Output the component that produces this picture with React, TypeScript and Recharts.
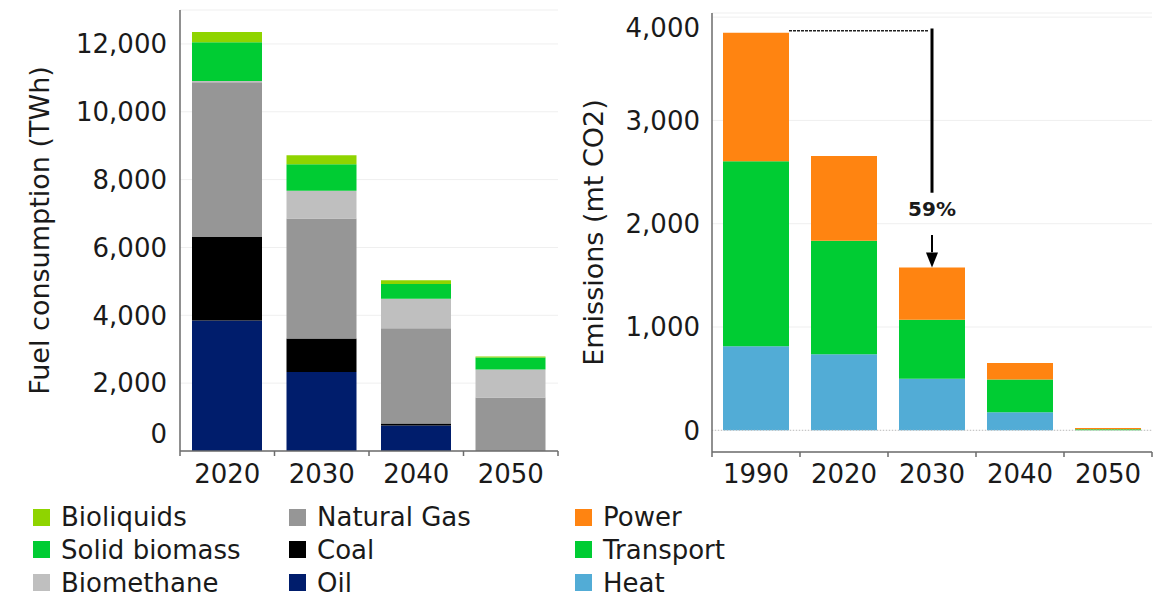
import React from 'react';
import { BarChart, Bar, XAxis, YAxis, CartesianGrid, ReferenceLine, ReferenceDot } from 'recharts';

// fuel consumption (TWh)
const fuelYears = ['2020', '2030', '2040', '2050'];
const oil = [3850, 2330, 750, 0];
const coal = [2460, 985, 60, 0];
const naturalGas = [4560, 3540, 2810, 1575];
const biomethane = [40, 815, 865, 825];
const solidBiomass = [1140, 780, 435, 355];
const bioliquids = [300, 265, 110, 30];
const fuelTicks = [0, 2000, 4000, 6000, 8000, 10000, 12000];

// emissions (mt CO2)
const emissionYears = ['1990', '2020', '2030', '2040', '2050'];
const heat = [813, 736, 500, 174, 0];
const transport = [1791, 1100, 571, 317, 10];
const power = [1246, 819, 504, 161, 12];
const emissionTicks = [0, 1000, 2000, 3000, 4000];

const baseYear = '1990';
const targetYear = '2030';
const reductionLabel = '59%';

const fuelData = fuelYears.map((year, i) => ({
  year,
  oil: oil[i],
  coal: coal[i],
  naturalGas: naturalGas[i],
  biomethane: biomethane[i],
  solidBiomass: solidBiomass[i],
  bioliquids: bioliquids[i],
}));

const emissionData = emissionYears.map((year, i) => ({
  year,
  heat: heat[i],
  transport: transport[i],
  power: power[i],
}));

const baseTotal = heat[0] + transport[0] + power[0];
const targetIdx = emissionYears.indexOf(targetYear);
const targetTotal = heat[targetIdx] + transport[targetIdx] + power[targetIdx];

const FONT = '"DejaVu Sans", Verdana, sans-serif';
const AXIS = '#6b6b6b';
const TEXT = '#1a1a1a';
const EMISSION_BAR = 66;

const COLORS = {
  bioliquids: '#8fd400',
  solidBiomass: '#00cc33',
  biomethane: '#bfbfbf',
  naturalGas: '#969696',
  coal: '#000000',
  oil: '#001d6c',
  power: '#ff8411',
  transport: '#00cc33',
  heat: '#52acd6',
};

const fmt = (v: number) => v.toLocaleString('en-US');

const makeYTick = (shift: (v: number) => number) => (props: any) => {
  const { x, y, payload } = props;
  return (
    <text x={x} y={y + shift(payload.value)} dy="0.355em" textAnchor="end" fontSize={26} fontFamily={FONT} fill={TEXT}>
      {fmt(payload.value)}
    </text>
  );
};

const makeXTick = (fallbackHalf: number, count: number, baseline: number) => (props: any) => {
  const { x, y, payload, index } = props;
  const half = payload && payload.offset > 0 ? payload.offset : fallbackHalf;
  return (
    <g>
      <line x1={x - half} x2={x - half} y1={y} y2={y + 5} stroke={AXIS} strokeWidth={1.5} />
      {index === count - 1 && (
        <line x1={x + half} x2={x + half} y1={y} y2={y + 5} stroke={AXIS} strokeWidth={1.5} />
      )}
      <text x={x} y={y + baseline} textAnchor="middle" fontSize={26} fontFamily={FONT} fill={TEXT}>
        {payload.value}
      </text>
    </g>
  );
};

const FuelYTick = makeYTick((v) => (v === 0 ? -17 : 0));
const EmissionYTick = makeYTick((v) => (v === 4000 ? 11 : 0));
const FuelXTick = makeXTick(47.25, fuelYears.length, 32);
const EmissionXTick = makeXTick(44, emissionYears.length, 31);

// dashed bracket: from the right edge of the base-year bar to the vertical drop line
const DashedBracket = (p: any) => (
  <line
    x1={p.x1 + EMISSION_BAR / 2}
    y1={p.y1 - 2}
    x2={p.x2 - 4}
    y2={p.y2 - 2}
    stroke="#222"
    strokeWidth={1.5}
    strokeDasharray="3 1"
  />
);

const legendRows = [
  [
    { name: 'Bioliquids', color: COLORS.bioliquids },
    { name: 'Natural Gas', color: COLORS.naturalGas },
    { name: 'Power', color: COLORS.power },
  ],
  [
    { name: 'Solid biomass', color: COLORS.solidBiomass },
    { name: 'Coal', color: COLORS.coal },
    { name: 'Transport', color: COLORS.transport },
  ],
  [
    { name: 'Biomethane', color: COLORS.biomethane },
    { name: 'Oil', color: COLORS.oil },
    { name: 'Heat', color: COLORS.heat },
  ],
];
const legendCols = [33, 289, 575];
const legendRowY = [517, 549.5, 582.5];

function Legend() {
  return (
    <>
      {legendRows.map((row, r) =>
        row.map((item, c) => (
          <div
            key={item.name}
            style={{
              position: 'absolute',
              left: legendCols[c],
              top: legendRowY[r] - 17,
              height: 34,
              display: 'flex',
              alignItems: 'center',
              fontFamily: FONT,
              fontSize: 26,
              color: TEXT,
              whiteSpace: 'nowrap',
            }}
          >
            <span style={{ width: 17, height: 17, background: item.color, marginRight: 11, display: 'inline-block' }} />
            {item.name}
          </div>
        ))
      )}
    </>
  );
}

const labelStyle = { textAnchor: 'middle', fontSize: 27, fontFamily: FONT, fill: TEXT } as any;

export default function App() {
  return (
    <div style={{ position: 'fixed', left: 0, top: 0, width: 1157, height: 596, background: '#fff', overflow: 'hidden' }}>
      <div style={{ position: 'absolute', left: 0, top: 0 }}>
        <BarChart width={570} height={500} data={fuelData} margin={{ top: 10, right: 12, bottom: 9, left: 0 }} barSize={70}>
          <CartesianGrid vertical={false} stroke="#efefef" />
          <XAxis
            dataKey="year"
            height={40}
            interval={0}
            tickSize={0}
            tickMargin={0}
            tickLine={false}
            axisLine={{ stroke: AXIS, strokeWidth: 1.5 }}
            tick={FuelXTick}
          />
          <YAxis
            width={180}
            domain={[0, 13000]}
            ticks={fuelTicks}
            interval={0}
            tickSize={0}
            tickMargin={13}
            tickLine={false}
            axisLine={{ stroke: AXIS, strokeWidth: 1.5 }}
            tick={FuelYTick}
            label={{ value: 'Fuel consumption (TWh)', angle: -90, position: 'insideLeft', offset: 39, style: labelStyle }}
          />
          <Bar dataKey="oil" stackId="f" fill={COLORS.oil} name="Oil" isAnimationActive={false} />
          <Bar dataKey="coal" stackId="f" fill={COLORS.coal} name="Coal" isAnimationActive={false} />
          <Bar dataKey="naturalGas" stackId="f" fill={COLORS.naturalGas} name="Natural Gas" isAnimationActive={false} />
          <Bar dataKey="biomethane" stackId="f" fill={COLORS.biomethane} name="Biomethane" isAnimationActive={false} />
          <Bar dataKey="solidBiomass" stackId="f" fill={COLORS.solidBiomass} name="Solid biomass" isAnimationActive={false} />
          <Bar dataKey="bioliquids" stackId="f" fill={COLORS.bioliquids} name="Bioliquids" isAnimationActive={false} />
        </BarChart>
      </div>

      <div style={{ position: 'absolute', left: 560, top: 0 }}>
        <BarChart width={597} height={500} data={emissionData} margin={{ top: 13, right: 5, bottom: 8, left: 0 }} barSize={EMISSION_BAR}>
          <CartesianGrid vertical={false} stroke="#efefef" />
          <ReferenceLine y={0} stroke="#bdbdbd" strokeDasharray="1 2" />
          <ReferenceLine
            segment={[{ x: baseYear, y: baseTotal }, { x: targetYear, y: baseTotal }]}
            shape={DashedBracket}
          />
          <XAxis
            dataKey="year"
            height={40}
            interval={0}
            tickSize={0}
            tickMargin={0}
            tickLine={false}
            axisLine={{ stroke: AXIS, strokeWidth: 1.5 }}
            tick={EmissionXTick}
          />
          <YAxis
            width={152}
            domain={[-210, 4040]}
            ticks={emissionTicks}
            interval={0}
            tickSize={0}
            tickMargin={12}
            tickLine={false}
            axisLine={{ stroke: AXIS, strokeWidth: 1.5 }}
            tick={EmissionYTick}
            label={{ value: 'Emissions (mt CO2)', angle: -90, position: 'insideLeft', offset: 33, style: labelStyle }}
          />
          <Bar dataKey="heat" stackId="e" fill={COLORS.heat} name="Heat" isAnimationActive={false} />
          <Bar dataKey="transport" stackId="e" fill={COLORS.transport} name="Transport" isAnimationActive={false} />
          <Bar dataKey="power" stackId="e" fill={COLORS.power} name="Power" isAnimationActive={false} />
          <ReferenceLine
            segment={[{ x: targetYear, y: baseTotal + 40 }, { x: targetYear, y: 2300 }]}
            stroke="#000"
            strokeWidth={3}
          />
          <ReferenceLine
            segment={[{ x: targetYear, y: 1890 }, { x: targetYear, y: targetTotal + 150 }]}
            stroke="#000"
            strokeWidth={2}
          />
          <ReferenceDot
            x={targetYear}
            y={targetTotal}
            r={0}
            shape={(p: any) => (
              <path d={`M${p.cx},${p.cy} L${p.cx - 6},${p.cy - 15} L${p.cx + 6},${p.cy - 15} Z`} fill="#000" />
            )}
          />
          <ReferenceDot
            x={targetYear}
            y={2140}
            r={0}
            shape={(p: any) => (
              <text x={p.cx} y={p.cy} dy="0.36em" textAnchor="middle" fontSize={20} fontWeight="bold" fontFamily={FONT} fill={TEXT}>
                {reductionLabel}
              </text>
            )}
          />
        </BarChart>
      </div>

      <Legend />
    </div>
  );
}
